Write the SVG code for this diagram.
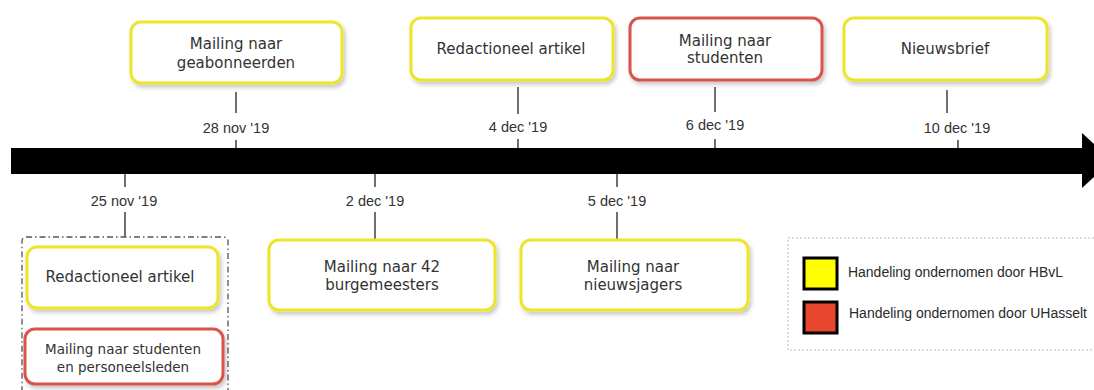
<svg xmlns="http://www.w3.org/2000/svg" width="1094" height="390" viewBox="0 0 1094 390">
  <defs>
    <filter id="shadow" x="-10%" y="-10%" width="130%" height="140%">
      <feDropShadow dx="2" dy="3" stdDeviation="2" flood-color="#000" flood-opacity="0.22"/>
    </filter>
  </defs>
  <style>
    .box { fill: #fff; stroke-width: 3; filter: url(#shadow); }
    .hbvl { stroke: #EDE52B; }
    .uh { stroke: #D9544A; }
    .lbl { font-family: "DejaVu Sans", Verdana, sans-serif; font-size: 15px; fill: #333; text-anchor: middle; }
    .lbl-s { font-family: "DejaVu Sans", Verdana, sans-serif; font-size: 13.5px; fill: #333; text-anchor: middle; }
    .date { font-family: "Liberation Sans", Arial, sans-serif; font-size: 14.5px; fill: #333; text-anchor: middle; }
    .tick { stroke: #333; stroke-width: 1.4; fill: none; }
    .legend-txt { font-family: "Liberation Sans", Arial, sans-serif; font-size: 14px; fill: #2a2a2a; }
  </style>
  <rect width="1094" height="390" fill="#fff"/>

  <!-- timeline arrow -->
  <g id="timeline">
    <rect x="11" y="148" width="1073" height="26" fill="#000"/>
    <polygon points="1082,133 1112,160.5 1082,188" fill="#000"/>
  </g>

  <!-- connectors: ticks from axis to labels and labels to boxes -->
  <g id="connectors">
    <line class="tick" x1="236" y1="92" x2="236" y2="113"/>
    <line class="tick" x1="236" y1="140" x2="236" y2="148"/>
    <line class="tick" x1="518" y1="87" x2="518" y2="114"/>
    <line class="tick" x1="518" y1="139" x2="518" y2="148"/>
    <line class="tick" x1="715" y1="87" x2="715" y2="112"/>
    <line class="tick" x1="715" y1="139" x2="715" y2="148"/>
    <line class="tick" x1="947" y1="90" x2="947" y2="113"/>
    <line class="tick" x1="958" y1="140" x2="958" y2="148"/>

    <line class="tick" x1="125" y1="174" x2="125" y2="187"/>
    <line class="tick" x1="125" y1="212" x2="125" y2="237"/>
    <line class="tick" x1="375" y1="174" x2="375" y2="187"/>
    <line class="tick" x1="375" y1="212" x2="375" y2="239"/>
    <line class="tick" x1="617" y1="174" x2="617" y2="187"/>
    <line class="tick" x1="617" y1="212" x2="617" y2="239"/>
  </g>

  <!-- dates -->
  <g id="dates">
    <text class="date" x="236" y="133">28 nov '19</text>
    <text class="date" x="518" y="132">4 dec '19</text>
    <text class="date" x="715" y="130">6 dec '19</text>
    <text class="date" x="957" y="133">10 dec '19</text>
    <text class="date" x="124" y="206">25 nov '19</text>
    <text class="date" x="375" y="206">2 dec '19</text>
    <text class="date" x="617" y="206">5 dec '19</text>
  </g>

  <!-- events above the axis -->
  <g id="node-geabonneerden">
    <rect class="box hbvl" x="131" y="22" width="211" height="61" rx="10"/>
    <text class="lbl" x="236" y="49">Mailing naar</text>
    <text class="lbl" x="236" y="68">geabonneerden</text>
  </g>
  <g id="node-redactioneel-top">
    <rect class="box hbvl" x="411" y="18" width="202" height="62" rx="10"/>
    <text class="lbl" x="511" y="54">Redactioneel artikel</text>
  </g>
  <g id="node-studenten">
    <rect class="box uh" x="630" y="18" width="192" height="62" rx="10"/>
    <text class="lbl" x="725" y="46">Mailing naar</text>
    <text class="lbl" x="725" y="63">studenten</text>
  </g>
  <g id="node-nieuwsbrief">
    <rect class="box hbvl" x="844" y="18" width="203" height="62" rx="10"/>
    <text class="lbl" x="945" y="54">Nieuwsbrief</text>
  </g>

  <!-- events below the axis -->
  <g id="group-25nov">
    <rect x="22" y="237" width="206" height="160" rx="4" fill="none" stroke="#555" stroke-width="1.3" stroke-dasharray="6 3 1.5 3"/>
    <g id="node-redactioneel-bottom">
      <rect class="box hbvl" x="27" y="247" width="191" height="61" rx="10"/>
      <text class="lbl" x="120" y="282">Redactioneel artikel</text>
    </g>
    <g id="node-studenten-personeel">
      <rect class="box uh" x="25" y="329" width="198" height="55" rx="10"/>
      <text class="lbl-s" x="123" y="354">Mailing  naar studenten</text>
      <text class="lbl-s" x="123" y="372">en personeelsleden</text>
    </g>
  </g>
  <g id="node-burgemeesters">
    <rect class="box hbvl" x="269" y="240" width="226" height="70" rx="10"/>
    <text class="lbl" x="382" y="272">Mailing naar 42</text>
    <text class="lbl" x="382" y="290">burgemeesters</text>
  </g>
  <g id="node-nieuwsjagers">
    <rect class="box hbvl" x="521" y="240" width="227" height="70" rx="10"/>
    <text class="lbl" x="633" y="272">Mailing naar</text>
    <text class="lbl" x="633" y="290">nieuwsjagers</text>
  </g>

  <!-- legend -->
  <g id="legend">
    <rect x="788" y="238" width="320" height="112" fill="none" stroke="#bbb" stroke-width="1" stroke-dasharray="2 2"/>
    <rect x="804" y="258" width="33" height="31" fill="#FFFF00" stroke="#000" stroke-width="3"/>
    <rect x="804" y="302" width="33" height="31" fill="#E8452F" stroke="#000" stroke-width="3"/>
    <text class="legend-txt" x="848" y="277" textLength="215" lengthAdjust="spacingAndGlyphs">Handeling ondernomen door HBvL</text>
    <text class="legend-txt" x="849" y="318" textLength="238" lengthAdjust="spacingAndGlyphs">Handeling ondernomen door UHasselt</text>
  </g>
</svg>
